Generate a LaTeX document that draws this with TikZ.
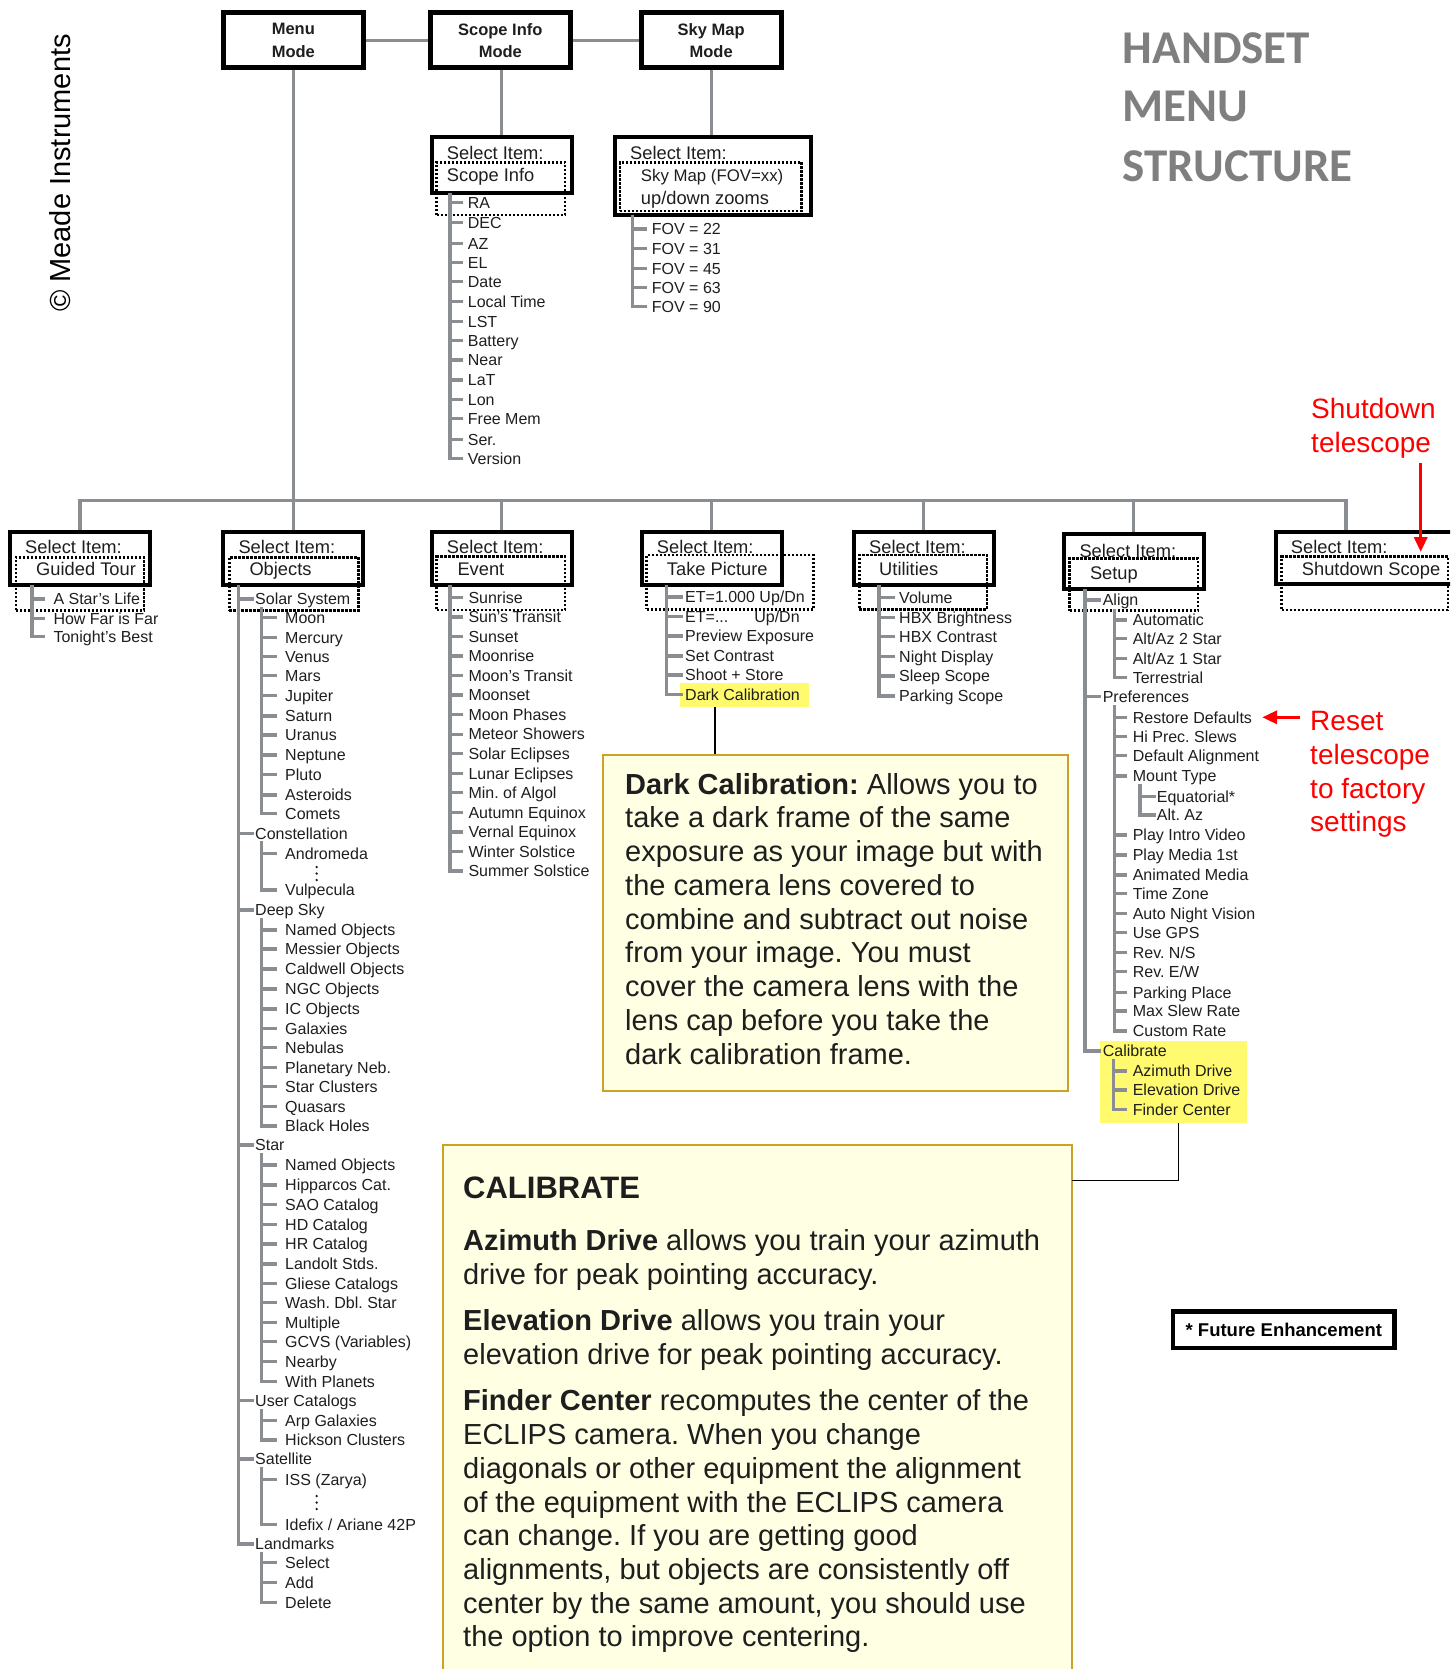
\documentclass[tikz,border=0pt]{standalone}
\usepackage{fontspec}
\setmainfont{Liberation Sans}
\newfontfamily\titlefont{Carlito}
\usetikzlibrary{arrows.meta}
\frenchspacing
\definecolor{treegray}{RGB}{138,141,146}
\definecolor{textdark}{RGB}{30,30,30}
\definecolor{callfill}{RGB}{255,255,228}
\definecolor{callborder}{RGB}{201,162,39}
\definecolor{hlyellow}{RGB}{255,250,110}
\definecolor{titlegray}{RGB}{127,127,127}
\definecolor{annred}{RGB}{255,0,0}

\newcommand\itemlist[5]{%
  \foreach \yy/\lbl [count=\ii] in {#5}{%
    \node[itm] (#1-\ii) at (#3,\yy) {\lbl};
    \draw[treeline] (#2) |- ([xshift=-#4pt]#1-\ii.west);
  }}

\begin{document}
\begin{tikzpicture}[x=1pt,y=-1pt,
  itm/.style={anchor=west, inner sep=0pt, text height=11.5pt, text depth=0pt, text=textdark, font=\fontsize{16}{19}\selectfont},
  treeline/.style={draw=treegray, line width=3.2pt},
  busline/.style={draw=treegray, line width=3.4pt},
  modebox/.style={draw, line width=5pt, minimum width=140pt, minimum height=55pt, inner sep=0pt, align=center, text=textdark, font=\bfseries\fontsize{16.5}{22.4}\selectfont},
  selbox/.style={draw, line width=4pt, inner sep=0pt},
  dotbox/.style={draw, line width=2.8pt, dash pattern=on 2.4pt off 1.6pt, inner sep=0pt},
  seltxt/.style={anchor=west, inner sep=0pt, text height=13pt, text depth=0pt, text=textdark, font=\fontsize{18.3}{22}\selectfont},
  callbox/.style={draw=callborder, fill=callfill, line width=2pt, inner sep=0pt},
  calltxt/.style={anchor=base west, inner sep=0pt, text=textdark, font=\fontsize{29}{34}\selectfont},
  hlbox/.style={fill=hlyellow, inner sep=0pt},
  callline/.style={draw=black, line width=1.6pt},
  redtxt/.style={anchor=base west, inner sep=0pt, text=annred, font=\fontsize{28}{33}\selectfont},
  redarrow/.style={draw=annred, line width=3.5pt, -{Triangle[length=15pt,width=13pt]}},
  titletxt/.style={anchor=base west, inner sep=0pt, text=titlegray, font=\titlefont\bfseries\fontsize{47}{56}\selectfont},
]
\useasboundingbox (0,0) rectangle (1450,1669);
\clip (0,0) rectangle (1450,1669);

% ---------- title and copyright
\node[titletxt] (title1) at (1122.7,63.3) {HANDSET};
\node[titletxt] (title2) at (1122.7,121.7) {MENU};
\node[titletxt] (title3) at (1122.7,181.7) {STRUCTURE};
\node[rotate=90, inner sep=0pt, text=black, font=\fontsize{29}{34}\selectfont] (copyr) at (60,173) {© Meade Instruments};

% ---------- mode boxes
\node[modebox] (menu) at (293.3,40.5) {Menu\\Mode};
\node[modebox] (scopeinfo) at (500.3,40.5) {Scope Info\\Mode};
\node[modebox] (skymap) at (711.2,40.5) {Sky Map\\Mode};

% ---------- select boxes (solid)
\node[selbox, minimum width=140pt, minimum height=56pt] (selsi) at (501.7,165.3) {};
\node[selbox, minimum width=195.7pt, minimum height=77.7pt] (selsm) at (712.8,176.2) {};
\node[selbox, minimum width=140pt, minimum height=53pt] (selgt) at (80,558.5) {};
\node[selbox, minimum width=140pt, minimum height=53pt] (selobj) at (293.3,558.5) {};
\node[selbox, minimum width=140pt, minimum height=53pt] (selev) at (501.7,558.4) {};
\node[selbox, minimum width=140pt, minimum height=53pt] (seltp) at (711.7,558.4) {};
\node[selbox, minimum width=140pt, minimum height=53pt] (selut) at (923.6,558.4) {};
\node[selbox, minimum width=140pt, minimum height=55pt] (selsu) at (1133.7,561.5) {};
\node[selbox, minimum width=194pt, minimum height=52.3pt] (selsd) at (1373,557.9) {};

% ---------- select boxes (dotted)
\node[dotbox, minimum width=128.3pt, minimum height=52.7pt] (dotsi) at (500.8,188.7) {};
\node[dotbox, minimum width=181.7pt, minimum height=48.7pt] (dotsm) at (710.8,186.7) {};
\node[dotbox, minimum width=128pt, minimum height=53.4pt] (dotgt) at (80,584) {};
\node[dotbox, minimum width=129pt, minimum height=53.4pt] (dotobj) at (293.8,584) {};
\node[dotbox, minimum width=128.3pt, minimum height=53.3pt] (dotev) at (500.8,583.3) {};
\node[dotbox, minimum width=166.6pt, minimum height=54.3pt] (dottp) at (730,582.2) {};
\node[dotbox, minimum width=127.5pt, minimum height=54.3pt] (dotut) at (923.2,582.2) {};
\node[dotbox, minimum width=128.4pt, minimum height=52.4pt] (dotsu) at (1133.8,584.5) {};
\node[dotbox, minimum width=166.3pt, minimum height=53.3pt] (dotsd) at (1364.8,583.3) {};

% ---------- select box texts
\node[seltxt] (tsi1) at (446.7,153.3) {Select Item:};
\node[seltxt] (tsi2) at (446.7,175) {Scope Info};
\node[seltxt] (tsm1) at (630,153) {Select Item:};
\node[seltxt, font=\fontsize{16.8}{20}\selectfont] (tsm2) at (640.7,175) {Sky Map (FOV=xx)};
\node[seltxt] (tsm3) at (640.7,198.3) {up/down zooms};
\node[seltxt] (tgt1) at (25,546.7) {Select Item:};
\node[seltxt] (tgt2) at (36,569.3) {Guided Tour};
\node[seltxt] (tobj1) at (238.3,546.7) {Select Item:};
\node[seltxt] (tobj2) at (249.3,569.3) {Objects};
\node[seltxt] (tev1) at (446.7,546.7) {Select Item:};
\node[seltxt] (tev2) at (457.3,569.3) {Event};
\node[seltxt] (ttp1) at (656.7,546.7) {Select Item:};
\node[seltxt] (ttp2) at (666.7,569.3) {Take Picture};
\node[seltxt] (tut1) at (869,546.7) {Select Item:};
\node[seltxt] (tut2) at (879,569.3) {Utilities};
\node[seltxt] (tsu1) at (1079.3,551) {Select Item:};
\node[seltxt] (tsu2) at (1089.8,572.7) {Setup};
\node[seltxt] (tsd1) at (1290.7,546.7) {Select Item:};
\node[seltxt] (tsd2) at (1301.7,569.3) {Shutdown Scope};

% ---------- top connectors and bus
\draw[busline] (menu.east) -- (scopeinfo.west);
\draw[busline] (scopeinfo.east) -- (skymap.west);
\draw[busline] (selsi.north |- scopeinfo.south) -- (selsi.north);
\draw[busline] (skymap.south) -- (skymap.south |- selsm.north);
\coordinate (busL) at (80,500.5);
\coordinate (busR) at (1346,500.5);
\draw[busline] (menu.south) -- (selobj.north);
\draw[busline] (selgt.north) -- (selgt.north |- busL) -- (busR) -- (busR |- selsd.north);
\foreach \n in {selev,seltp,selut,selsu} \draw[busline] (\n.north) -- (\n.north |- busL);

% ---------- highlights
\node[hlbox, minimum width=129.3pt, minimum height=24pt] (hldc) at (744.6,695.3) {};
\node[hlbox, minimum width=147pt, minimum height=82pt] (hlcal) at (1173.2,1082.2) {};

% ---------- trunk tops
\coordinate (siTop) at (450,193.3);
\coordinate (fovTop) at (632.3,215);
\coordinate (gtTop) at (32,585);
\coordinate (obTop) at (238.7,585);
\coordinate (solTop) at (261.7,607);
\coordinate (conTop) at (261.7,841);
\coordinate (dsTop) at (261.7,918);
\coordinate (stTop) at (261.7,1153);
\coordinate (ucTop) at (261.7,1409);
\coordinate (satTop) at (261.7,1467);
\coordinate (lmTop) at (261.7,1552);
\coordinate (evTop) at (450,585);
\coordinate (tpTop) at (666.7,585);
\coordinate (utTop) at (879,585);
\coordinate (suTop) at (1085,589);
\coordinate (alTop) at (1114.3,609);
\coordinate (prTop) at (1114.3,705);
\coordinate (mtTop) at (1140,784);
\coordinate (caTop) at (1113.3,1059);

% ---------- lists
\itemlist{si}{siTop}{467.7}{5}{202.7/RA, 222.7/DEC, 243.3/AZ, 262.7/EL, 281.7/Date, 301.7/Local Time, 321.7/LST, 340.7/Battery, 360/Near, 380/LaT, 399.3/Lon, 418.7/Free Mem, 439.3/Ser., 458.3/Version}
\itemlist{fov}{fovTop}{651.7}{5}{229/FOV = 22, 248.3/FOV = 31, 268.3/FOV = 45, 287.3/FOV = 63, 306.7/FOV = 90}
\itemlist{gt}{gtTop}{53.3}{8}{599/A Star's Life, 618.3/How Far is Far, 636.7/Tonight's Best}
\itemlist{ob}{obTop}{255}{1}{599/Solar System, 833.3/Constellation, 910/Deep Sky, 1145/Star, 1400.7/User Catalogs, 1459/Satellite, 1544/Landmarks}
\itemlist{sol}{solTop}{285}{8}{617.3/Moon, 637.3/Mercury, 656.7/Venus, 675.7/Mars, 695.7/Jupiter, 716/Saturn, 735/Uranus, 755/Neptune, 774.3/Pluto, 795/Asteroids, 813.3/Comets}
\itemlist{con}{conTop}{285}{8}{853.3/Andromeda, 890/Vulpecula}
\itemlist{ds}{dsTop}{285}{8}{930/Named Objects, 949/Messier Objects, 969/Caldwell Objects, 989/NGC Objects, 1009/IC Objects, 1028.3/Galaxies, 1047.7/Nebulas, 1067.7/Planetary Neb., 1086.7/Star Clusters, 1106.7/Quasars, 1126/Black Holes}
\itemlist{st}{stTop}{285}{8}{1165/Named Objects, 1185/Hipparcos Cat., 1204.3/SAO Catalog, 1224.3/HD Catalog, 1244/HR Catalog, 1264/Landolt Stds., 1283.3/Gliese Catalogs, 1302.7/Wash. Dbl. Star, 1322.7/Multiple, 1341.7/GCVS (Variables), 1361.7/Nearby, 1381.7/With Planets}
\itemlist{uc}{ucTop}{285}{8}{1420.7/Arp Galaxies, 1440/Hickson Clusters}
\itemlist{sat}{satTop}{285}{8}{1479.3/ISS (Zarya), 1524.3/{Idefix / Ariane 42P}}
\itemlist{lm}{lmTop}{285}{8}{1562.7/Select, 1582.7/Add, 1602.7/Delete}
\foreach \d in {867,873.5,880} \fill[textdark] (316.7,\d) circle (1.3pt);
\foreach \d in {1496,1502.5,1509} \fill[textdark] (316.7,\d) circle (1.3pt);

\itemlist{ev}{evTop}{468.3}{5.5}{597.3/Sunrise, 616.9/Sun's Transit, 636.4/Sunset, 656/Moonrise, 675.5/Moon's Transit, 695/Moonset, 714.6/Moon Phases, 734.2/Meteor Showers, 753.7/Solar Eclipses, 773.3/Lunar Eclipses, 792.8/Min. of Algol, 812.4/Autumn Equinox, 831.9/Vernal Equinox, 851.5/Winter Solstice, 871/Summer Solstice}
\itemlist{tp}{tpTop}{685}{2}{597/{ET=1.000 Up/Dn}, 616.7/{ET=...\hspace{26pt}Up/Dn}, 636/Preview Exposure, 656/Set Contrast, 675/Shoot + Store, 694.7/Dark Calibration}
\itemlist{ut}{utTop}{899}{4.5}{597.3/Volume, 617.3/HBX Brightness, 636.7/HBX Contrast, 656.7/Night Display, 676/Sleep Scope, 696/Parking Scope}
\itemlist{su}{suTop}{1102.6}{1.5}{600/Align, 696.7/Preferences, 1051/Calibrate}
\itemlist{al}{alTop}{1132.6}{6}{620/Automatic, 638.3/{Alt/Az 2 Star}, 658.3/{Alt/Az 1 Star}, 677.3/Terrestrial}
\itemlist{pr}{prTop}{1132.6}{6}{717.3/Restore Defaults, 736.7/Hi Prec. Slews, 755.7/Default Alignment, 776/Mount Type, 835/Play Intro Video, 855/Play Media 1st, 875/Animated Media, 893.3/Time Zone, 913.3/Auto Night Vision, 932.7/Use GPS, 952.3/{Rev. N/S}, 971.7/{Rev. E/W}, 992.3/Parking Place, 1011/Max Slew Rate, 1031/Custom Rate}
\itemlist{mt}{mtTop}{1156.7}{1}{796.7/Equatorial*, 815/Alt. Az}
\itemlist{ca}{caTop}{1132.6}{6}{1071/Azimuth Drive, 1090/Elevation Drive, 1109.3/Finder Center}

% ---------- Dark Calibration callout
\node[callbox, minimum width=465pt, minimum height=336pt] (dcbox) at (835.5,923) {};
\coordinate (dcjoin) at (715,707.3);
\draw[callline] (dcjoin) -- (dcjoin |- dcbox.north);
\foreach \lbl [count=\ii] in {{\textbf{Dark Calibration:} Allows you to}, take a dark frame of the same, exposure as your image but with, the camera lens covered to, combine and subtract out noise, from your image. You must, cover the camera lens with the, lens cap before you take the, dark calibration frame.}{%
  \node[calltxt] (dc-\ii) at (625,{794+33.75*(\ii-1)}) {\lbl};
}

% ---------- Calibrate callout
\node[callbox, minimum width=629pt, minimum height=560pt] (calbox) at (757.5,1424.5) {};
\coordinate (caljoin) at (1178.5,1123.2);
\coordinate (calhook) at (1072,1180.6);
\draw[callline] (caljoin) |- (calhook);
\node[calltxt, font=\bfseries\fontsize{31}{36}\selectfont] (calhead) at (463,1198) {CALIBRATE};
\foreach \yy/\lbl [count=\ii] in {1250.7/{\textbf{Azimuth Drive} allows you train your azimuth}, 1284.8/{drive for peak pointing accuracy.}, 1330.5/{\textbf{Elevation Drive} allows you train your}, 1364.6/{elevation drive for peak pointing accuracy.}, 1410.4/{\textbf{Finder Center} recomputes the center of the}, 1444.4/{ECLIPS camera. When you change}, 1478.5/{diagonals or other equipment the alignment}, 1512.6/{of the equipment with the ECLIPS camera}, 1545.6/{can change. If you are getting good}, 1579.6/{alignments, but objects are consistently off}, 1613.7/{center by the same amount, you should use}, 1646.7/{the option to improve centering.}}{%
  \node[calltxt] (cal-\ii) at (463,\yy) {\lbl};
}

% ---------- red annotations
\node[redtxt] (shut1) at (1311,418.5) {Shutdown};
\node[redtxt] (shut2) at (1311,452) {telescope};
\coordinate (sdtail) at (1420.7,463.3);
\coordinate (sdtip) at (1420.7,552);
\draw[redarrow] (sdtail) -- (sdtip);

\node[redtxt] (reset1) at (1310,730) {Reset};
\node[redtxt] (reset2) at (1310,764.5) {telescope};
\node[redtxt] (reset3) at (1310,798.3) {to factory};
\node[redtxt] (reset4) at (1310,831.7) {settings};
\coordinate (rsA) at ([xshift=-10pt]reset1.west |- pr-1.east);
\draw[redarrow] (rsA) -- ([xshift=10pt]pr-1.east);

% ---------- future enhancement
\node[draw, line width=4.5pt, minimum width=221.6pt, minimum height=36.2pt, inner sep=0pt, text=black, font=\bfseries\fontsize{18.5}{22}\selectfont] (future) at (1283.8,1329.7) {* Future Enhancement};
\end{tikzpicture}
\end{document}
